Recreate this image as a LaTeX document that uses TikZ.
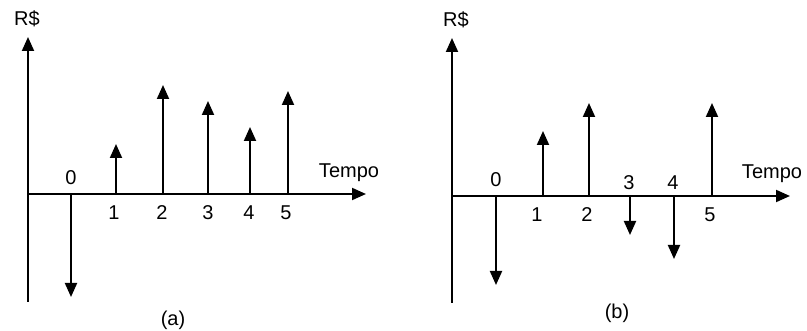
\documentclass[tikz,border=0pt]{standalone}
\usepackage{fontspec}
\setmainfont{Liberation Sans}
\usetikzlibrary{arrows.meta}
\begin{document}
\begin{tikzpicture}[x=1pt,y=-1pt,
  flow/.style={line width=2pt,-{Triangle[width=12pt,length=14pt]}},
  axis/.style={line width=2pt},
  lbl/.style={inner sep=0pt,font=\fontsize{20}{22}\selectfont}]
\useasboundingbox (0,0) rectangle (807,331);
% ---------- panel (a) ----------
\coordinate (aOy) at (28,37);
\coordinate (aO) at (28,194);
\coordinate (aB) at (28,302);
\coordinate (aX) at (366,194);
\draw[axis] (aB) -- (aO);
\draw[flow] (aO) -- (aOy);
\draw[flow] (aO) -- (aX);
\foreach \n/\x/\y in {0/71/297,1/116/144,2/163/85,3/208/101,4/250/127,5/288/91}{
  \coordinate (a\n b) at (\x,194);
  \coordinate (a\n t) at (\x,\y);
  \draw[flow] (a\n b) -- (a\n t);
}
\node[lbl] (la0) at (71,178) {0};
\node[lbl] (la1) at (114,213) {1};
\node[lbl] (la2) at (162,213) {2};
\node[lbl] (la3) at (208,213) {3};
\node[lbl] (la4) at (249,213) {4};
\node[lbl] (la5) at (286,213) {5};
\node[lbl] (laT) at (349,173) {Tempo};
\node[lbl] (laR) at (27,19) {R\$};
\node[lbl] (lacap) at (173,320) {(a)};
% ---------- panel (b) ----------
\coordinate (bOy) at (452,38);
\coordinate (bO) at (452,196);
\coordinate (bB) at (452,303);
\coordinate (bX) at (790,196);
\draw[axis] (bB) -- (bO);
\draw[flow] (bO) -- (bOy);
\draw[flow] (bO) -- (bX);
\foreach \n/\x/\y in {0/496/285,1/543/131,2/589/103,3/630/235,4/674/259,5/712/103}{
  \coordinate (b\n b) at (\x,196);
  \coordinate (b\n t) at (\x,\y);
  \draw[flow] (b\n b) -- (b\n t);
}
\node[lbl] (lb0) at (496,180) {0};
\node[lbl] (lb1) at (537,215) {1};
\node[lbl] (lb2) at (587,215) {2};
\node[lbl] (lb3) at (629,183) {3};
\node[lbl] (lb4) at (673,183) {4};
\node[lbl] (lb5) at (710,215) {5};
\node[lbl] (lbT) at (772,174) {Tempo};
\node[lbl] (lbR) at (456,20) {R\$};
\node[lbl] (lbcap) at (617,313) {(b)};
\end{tikzpicture}
\end{document}
